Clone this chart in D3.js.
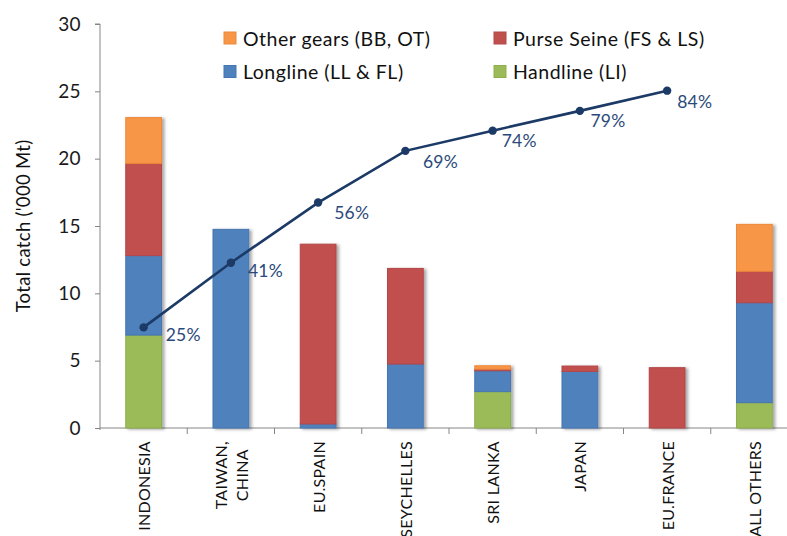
<!DOCTYPE html>
<html>
<head>
<meta charset="utf-8">
<script src="https://cdn.jsdelivr.net/npm/d3@7"></script>
<style>
  html, body { margin: 0; padding: 0; background: #fff; }
  svg { display: block; font-family: Lato, "Open Sans", sans-serif; }
</style>
</head>
<body>
<svg id="chart" width="787" height="536"></svg>
<script>
// ---- data ----
const categories = ["INDONESIA", "TAIWAN,\nCHINA", "EU.SPAIN", "SEYCHELLES", "SRI LANKA", "JAPAN", "EU.FRANCE", "ALL OTHERS"];
const handline   = [6.9, 0, 0, 0, 2.7, 0, 0, 1.88];
const longline   = [5.9, 14.75, 0.3, 4.75, 1.55, 4.2, 0, 7.42];
const purseSeine = [6.85, 0, 13.35, 7.1, 0.12, 0.4, 4.48, 2.34];
const otherGears = [3.4, 0, 0, 0, 0.25, 0, 0, 3.48];
const cumulativePct = [24.9, 40.9, 55.8, 68.6, 73.6, 78.5, 83.5];
const yTicks = [0, 5, 10, 15, 20, 25, 30];
const seriesNames = ["Handline (LI)", "Longline (LL & FL)", "Purse Seine (FS & LS)", "Other gears (BB, OT)"];

// ---- layout ----
const svg = d3.select("#chart");
const mLeft = 100, mRight = 798, mTop = 24, mBottom = 428;
const colors = ["#9BBB59", "#4F81BD", "#C0504D", "#F79646"];
const strokes = ["#8FAF4E", "#4677B2", "#B3474A", "#EE8A3A"];

const x = d3.scaleBand().domain(categories).range([mLeft, mRight]).padding(0);
const y = d3.scaleLinear().domain([0, 30]).range([mBottom, mTop]);
const yPct = d3.scaleLinear().domain([0, 100]).range([mBottom, mTop]);
const barW = x.bandwidth() * 0.41;

const defs = svg.append("defs");
const f = defs.append("filter").attr("id", "shadow").attr("x", "-20%").attr("y", "-5%").attr("width", "150%").attr("height", "115%");
f.append("feDropShadow").attr("dx", 2.5).attr("dy", 1).attr("stdDeviation", 1.4).attr("flood-color", "#000").attr("flood-opacity", 0.35);

// stacked data
const table = categories.map((c, i) => ({ cat: c, s0: handline[i], s1: longline[i], s2: purseSeine[i], s3: otherGears[i] }));
const stack = d3.stack().keys(["s0", "s1", "s2", "s3"])(table);

// y axis
const yAxis = d3.axisLeft(y).tickValues(yTicks).tickSize(5).tickPadding(14);
const gy = svg.append("g").attr("transform", `translate(${mLeft},0)`).call(yAxis);
gy.select(".domain").attr("stroke", "#868686").attr("d", `M-5,${mTop}H0V${mBottom + 2}`);
gy.selectAll(".tick line").attr("stroke", "#868686");
gy.selectAll(".tick text").attr("font-size", 19).attr("letter-spacing", 0.4).attr("fill", "#1a1a1a").attr("font-family", "Lato, sans-serif");

// x axis baseline and ticks
const gx = svg.append("g");
gx.append("line").attr("x1", mLeft).attr("x2", mRight).attr("y1", mBottom).attr("y2", mBottom).attr("stroke", "#868686");
gx.selectAll("line.t").data(categories).enter().append("line")
  .attr("x1", d => x(d) + x.bandwidth()).attr("x2", d => x(d) + x.bandwidth())
  .attr("y1", mBottom).attr("y2", mBottom + 6).attr("stroke", "#868686");

// bars
const bars = svg.append("g").attr("filter", "url(#shadow)");
stack.forEach((layer, k) => {
  bars.selectAll(null).data(layer.filter(d => d[1] - d[0] > 0)).enter().append("rect")
    .attr("x", d => x(d.data.cat) + (x.bandwidth() - barW) / 2)
    .attr("width", barW)
    .attr("y", d => y(d[1]))
    .attr("height", d => y(d[0]) - y(d[1]))
    .attr("fill", colors[k])
    .attr("stroke", strokes[k])
    .attr("stroke-width", 1);
});

// x labels (rotated)
const labY = 441;
categories.forEach(c => {
  const lines = c.split("\n");
  const cx = x(c) + x.bandwidth() / 2;
  const g = svg.append("g");
  const lh = 21;
  const texts = lines.map((ln, i) => g.append("text")
    .attr("font-size", 16).attr("letter-spacing", 0.3).attr("fill", "#111")
    .attr("dominant-baseline", "central")
    .text(ln));
  const maxLen = d3.max(texts, t => t.node().getComputedTextLength());
  texts.forEach((t, i) => {
    const off = (i - (lines.length - 1) / 2) * lh;
    t.attr("text-anchor", "middle")
     .attr("transform", `translate(${cx + off},${labY + maxLen / 2}) rotate(-90)`);
  });
});

// y title
svg.append("text").attr("transform", "translate(23,226) rotate(-90)")
  .attr("text-anchor", "middle").attr("dominant-baseline", "central")
  .attr("font-size", 18.5).attr("letter-spacing", 0.3).attr("fill", "#111").text("Total catch ('000 Mt)");

// cumulative line
const pts = cumulativePct.map((v, i) => [x(categories[i]) + x.bandwidth() / 2, yPct(v)]);
svg.append("path").attr("d", d3.line()(pts)).attr("fill", "none").attr("stroke", "#1B3A66").attr("stroke-width", 2.6);
svg.selectAll("circle.m").data(pts).enter().append("circle")
  .attr("cx", d => d[0]).attr("cy", d => d[1]).attr("r", 4.2).attr("fill", "#1B3A66");
const labelDx = [22, 17, 16, 17.5, 9, 10.5, 10];
const labelDy = [14, 14, 16, 17, 16, 16, 17.5];
svg.selectAll("text.pct").data(cumulativePct).enter().append("text")
  .attr("x", (d, i) => pts[i][0] + labelDx[i]).attr("y", (d, i) => pts[i][1] + labelDy[i])
  .attr("font-size", 17.5).attr("letter-spacing", 0.3).attr("fill", "#2B4A7A")
  .text(d => Math.round(d) + "%");

// legend
const legendItems = [
  { name: seriesNames[3], c: 3, x: 224, y: 38 },
  { name: seriesNames[2], c: 2, x: 494, y: 38 },
  { name: seriesNames[1], c: 1, x: 224, y: 71.5 },
  { name: seriesNames[0], c: 0, x: 494, y: 71.5 }
];
const lg = svg.append("g");
legendItems.forEach(it => {
  lg.append("rect").attr("x", it.x).attr("y", it.y - 6).attr("width", 12).attr("height", 12)
    .attr("fill", colors[it.c]).attr("stroke", strokes[it.c]);
  lg.append("text").attr("x", it.x + 19).attr("y", it.y).attr("dominant-baseline", "central")
    .attr("font-size", 19.5).attr("letter-spacing", 0.5).attr("fill", "#111").text(it.name);
});
</script>
</body>
</html>
